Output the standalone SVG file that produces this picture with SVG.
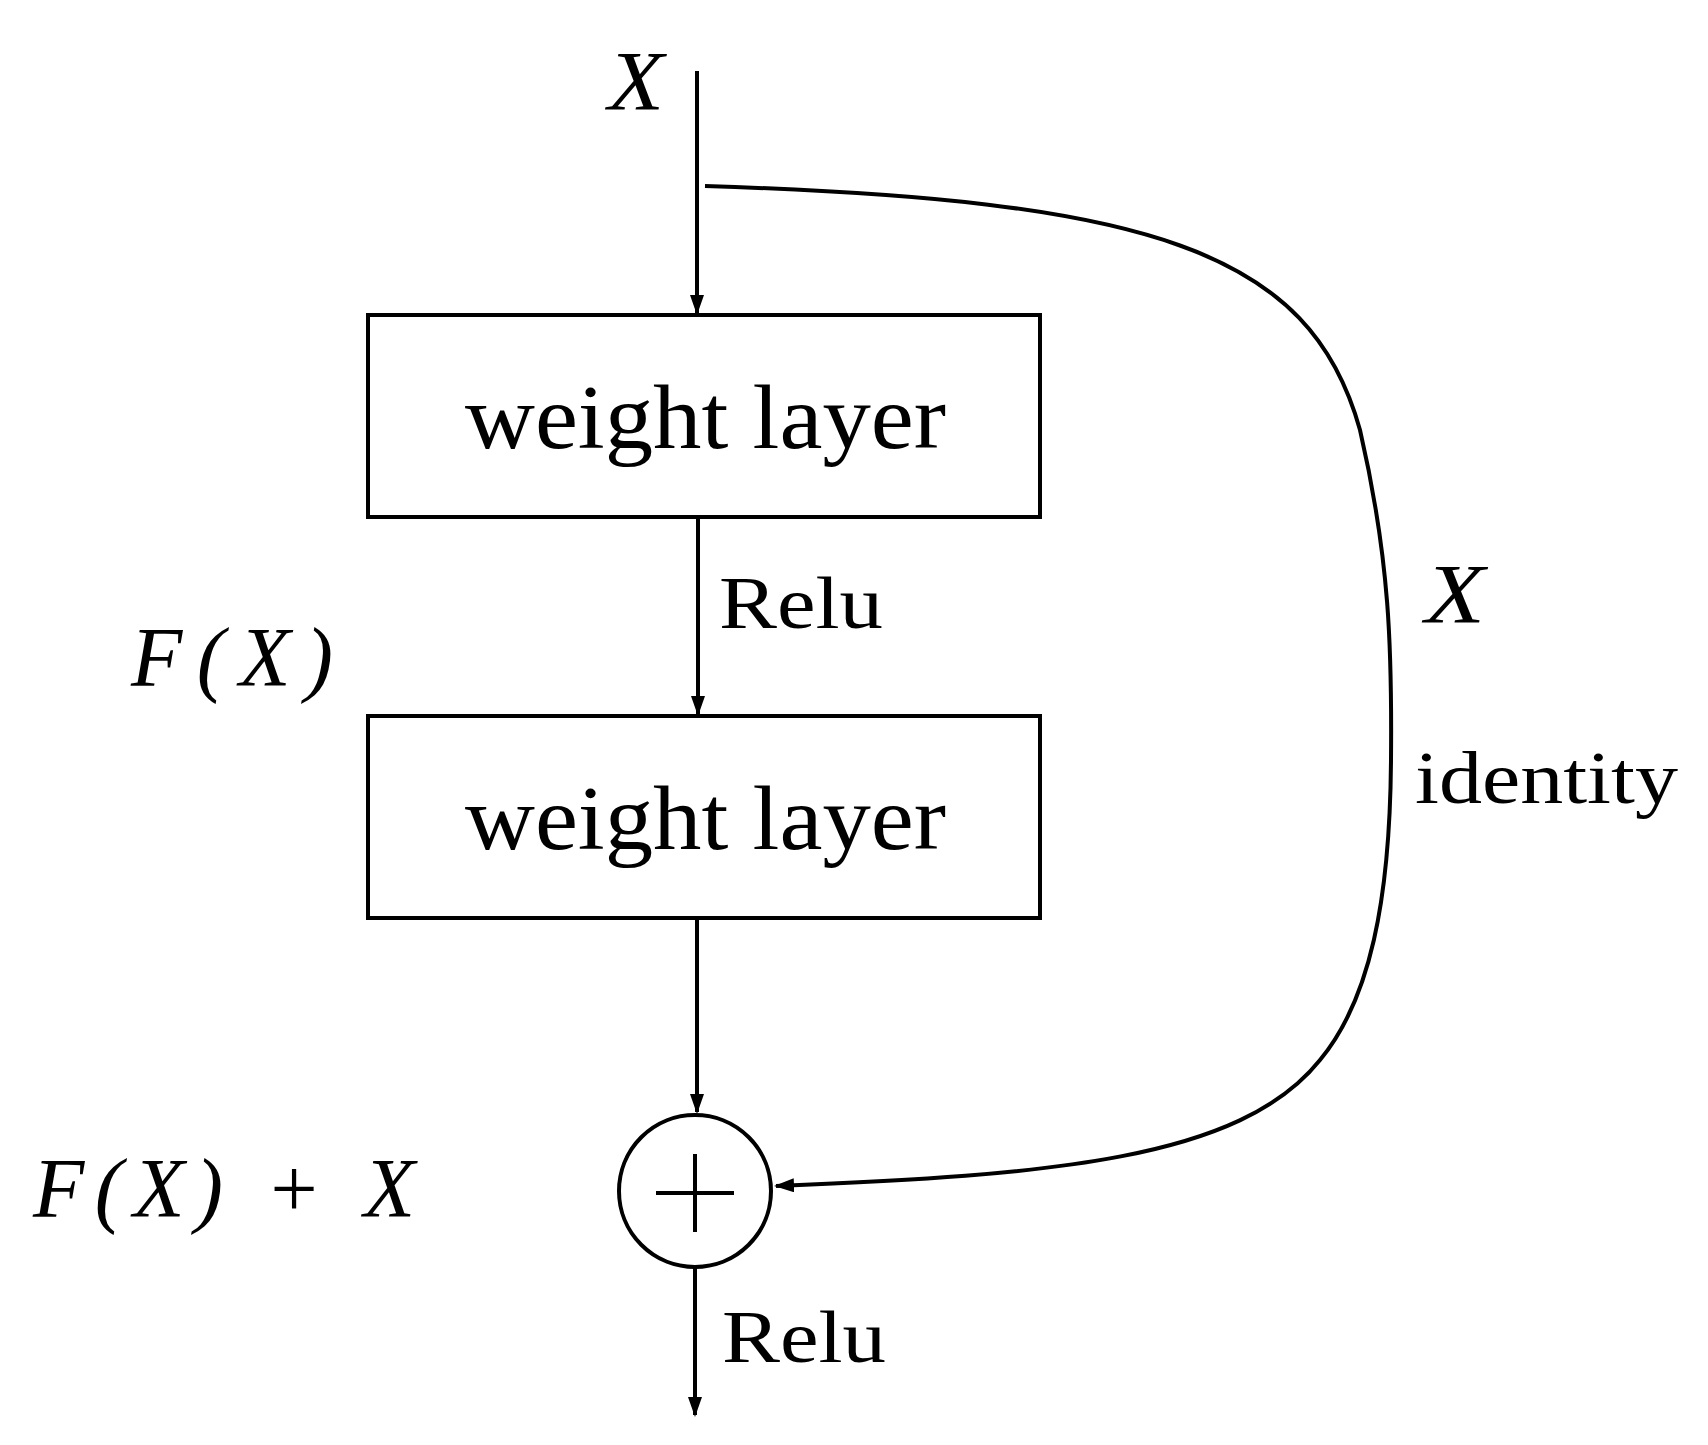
<svg xmlns="http://www.w3.org/2000/svg" width="1708" height="1445" viewBox="0 0 1708 1445">
<style>
.ln{stroke:#000;stroke-width:4;fill:none}
.box{stroke:#000;stroke-width:4;fill:#fff}
.t{font-family:"Liberation Serif",serif;fill:#000}
.m{font-family:"Liberation Serif",serif;font-style:italic;fill:#000}
</style>
<defs><marker id="b" markerWidth="20" markerHeight="14" refX="18" refY="7" orient="auto" markerUnits="userSpaceOnUse"><path d="M0,0 L20,7 L0,14 z" fill="#000"/></marker></defs>
<rect width="1708" height="1445" fill="#fff"/>
<g id="connectors">
<line class="ln" x1="697" y1="71" x2="697" y2="313" marker-end="url(#b)"/>
<line class="ln" x1="698" y1="519" x2="698" y2="714" marker-end="url(#b)"/>
<line class="ln" x1="697" y1="920" x2="697" y2="1112" marker-end="url(#b)"/>
<line class="ln" x1="695" y1="1268" x2="695" y2="1415" marker-end="url(#b)"/>
<path class="ln" d="M705,186 C1150,200 1310,250 1360,430 C1390,560 1392,650 1391,760 C1390,900 1370,1000 1320,1060 C1240,1160 1050,1175 776,1186" marker-end="url(#b)"/>
</g>
<g id="x_in"><text class="m" x="608" y="110" font-size="84" textLength="56" lengthAdjust="spacingAndGlyphs">X</text></g>
<g id="w1"><rect class="box" x="368" y="315" width="672" height="202"/><text class="t" x="465" y="448" font-size="90" textLength="481" lengthAdjust="spacingAndGlyphs">weight layer</text></g>
<g id="relu1"><text class="t" x="719" y="628" font-size="74" textLength="164" lengthAdjust="spacingAndGlyphs">Relu</text></g>
<g id="fx"><text class="m" x="131" y="686" font-size="84" textLength="202" lengthAdjust="spacing">F(X)</text></g>
<g id="w2"><rect class="box" x="368" y="716" width="672" height="202"/><text class="t" x="465" y="849" font-size="90" textLength="481" lengthAdjust="spacingAndGlyphs">weight layer</text></g>
<g id="plus"><circle class="box" cx="695" cy="1191" r="76"/><line class="ln" x1="656" y1="1193" x2="734" y2="1193"/><line class="ln" x1="695" y1="1154" x2="695" y2="1232"/></g>
<g id="fxx"><text class="m" x="33" y="1217" font-size="84" textLength="382" lengthAdjust="spacing">F(X) + X</text></g>
<g id="relu2"><text class="t" x="722" y="1362" font-size="74" textLength="164" lengthAdjust="spacingAndGlyphs">Relu</text></g>
<g id="x_id"><text class="m" x="1425" y="623" font-size="84" textLength="60" lengthAdjust="spacingAndGlyphs">X</text></g>
<g id="ident"><text class="t" x="1415" y="803" font-size="74" textLength="263" lengthAdjust="spacingAndGlyphs">identity</text></g>
</svg>
